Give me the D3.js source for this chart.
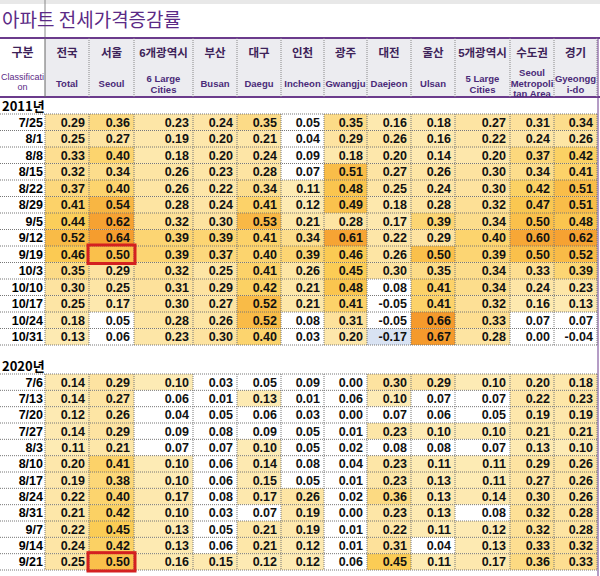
<!DOCTYPE html>
<html><head><meta charset="utf-8">
<script src="https://cdn.jsdelivr.net/npm/d3@7"></script>
<style>body{margin:0;background:#fff}</style>
</head><body><div id="chart"></div>
<script>
// chart data
const columnsKo = ["전국","서울","6개광역시","부산","대구","인천","광주","대전","울산","5개광역시","수도권","경기"];
const columnsEn = [["Total"],["Seoul"],["6 Large","Cities"],["Busan"],["Daegu"],["Incheon"],["Gwangju"],["Daejeon"],["Ulsan"],["5 Large","Cities"],["Seoul","Metropoli","tan Area"],["Gyeongg","i-do"]];
const dates2011 = ["7/25","8/1","8/8","8/15","8/22","8/29","9/5","9/12","9/19","10/3","10/10","10/17","10/24","10/31"];
const values2011 = [
  [0.29,0.36,0.23,0.24,0.35,0.05,0.35,0.16,0.18,0.27,0.31,0.34],
  [0.25,0.27,0.19,0.20,0.21,0.04,0.29,0.26,0.16,0.22,0.24,0.26],
  [0.33,0.40,0.18,0.20,0.24,0.09,0.18,0.20,0.14,0.20,0.37,0.42],
  [0.32,0.34,0.26,0.23,0.28,0.07,0.51,0.27,0.26,0.30,0.34,0.41],
  [0.37,0.40,0.26,0.22,0.34,0.11,0.48,0.25,0.24,0.30,0.42,0.51],
  [0.41,0.54,0.28,0.24,0.41,0.12,0.49,0.18,0.28,0.32,0.47,0.51],
  [0.44,0.62,0.32,0.30,0.53,0.21,0.28,0.17,0.39,0.34,0.50,0.48],
  [0.52,0.64,0.39,0.39,0.41,0.34,0.61,0.22,0.29,0.40,0.60,0.62],
  [0.46,0.50,0.39,0.37,0.40,0.39,0.46,0.26,0.50,0.39,0.50,0.52],
  [0.35,0.29,0.32,0.25,0.41,0.26,0.45,0.30,0.35,0.34,0.33,0.39],
  [0.30,0.25,0.31,0.29,0.42,0.21,0.48,0.08,0.41,0.34,0.24,0.23],
  [0.25,0.17,0.30,0.27,0.52,0.21,0.41,-0.05,0.41,0.32,0.16,0.13],
  [0.18,0.05,0.28,0.26,0.52,0.08,0.31,-0.05,0.66,0.33,0.07,0.07],
  [0.13,0.06,0.23,0.30,0.40,0.03,0.20,-0.17,0.67,0.28,0.00,-0.04]
];
const dates2020 = ["7/6","7/13","7/20","7/27","8/3","8/10","8/17","8/24","8/31","9/7","9/14","9/21"];
const values2020 = [
  [0.14,0.29,0.10,0.03,0.05,0.09,0.00,0.30,0.29,0.10,0.20,0.18],
  [0.14,0.27,0.06,0.01,0.13,0.01,0.06,0.10,0.07,0.07,0.22,0.23],
  [0.12,0.26,0.04,0.05,0.06,0.03,0.00,0.07,0.06,0.05,0.19,0.19],
  [0.14,0.29,0.09,0.08,0.09,0.05,0.01,0.23,0.10,0.10,0.21,0.21],
  [0.11,0.21,0.07,0.07,0.10,0.05,0.02,0.08,0.08,0.07,0.13,0.10],
  [0.20,0.41,0.10,0.06,0.14,0.08,0.04,0.23,0.11,0.11,0.29,0.26],
  [0.19,0.38,0.10,0.06,0.15,0.05,0.01,0.23,0.13,0.11,0.27,0.26],
  [0.22,0.40,0.17,0.08,0.17,0.26,0.02,0.36,0.13,0.14,0.30,0.26],
  [0.21,0.42,0.10,0.03,0.07,0.19,0.00,0.23,0.13,0.08,0.32,0.28],
  [0.22,0.45,0.13,0.05,0.21,0.19,0.01,0.22,0.11,0.12,0.32,0.28],
  [0.24,0.42,0.13,0.06,0.21,0.12,0.01,0.31,0.04,0.13,0.33,0.32],
  [0.25,0.50,0.16,0.15,0.12,0.12,0.06,0.45,0.11,0.17,0.36,0.33]
];
const highlights = [["2011","9/19",1],["2020","9/21",1]];

const WIDTH = 600, HEIGHT = 576;
const colWidths = [44,45,59,44,44,43,43,44,44,55,44,43];
const LABEL_W = 45;
const edges = [LABEL_W, ...d3.cumsum(colWidths).map(d => d + LABEL_W)];
const x = d3.scaleOrdinal().domain(columnsKo).range(edges.slice(0, -1));
const cw = i => colWidths[i];

const color = v => {
  if (v < 0) return v < -0.1 ? "#d9e3f3" : "#fff";
  if (v < 0.1) return "#fff";
  return d3.scaleLinear().domain([0.1,0.3,0.45,0.65]).range(["#fdebb5","#fde3a0","#fbcc55","#f59a2c"]).clamp(true)(v);
};

const svg = d3.select("#chart").append("svg").attr("width", WIDTH).attr("height", HEIGHT)
  .style("font-family", "Arial, 'Liberation Sans', 'Noto Sans CJK KR', sans-serif");

// excel strip on top
svg.append("rect").attr("x",0).attr("y",0).attr("width",WIDTH).attr("height",4).attr("fill","#e8e8e8");
svg.append("line").attr("x1",LABEL_W).attr("x2",LABEL_W).attr("y1",0).attr("y2",38).attr("stroke","#888");

svg.append("text").attr("x",2).attr("y",27).attr("fill","#5b2a86")
  .style("font-size","19px").style("font-family","'Noto Sans CJK KR', sans-serif").text("아파트 전세가격증감률");

// header
const HT = 38, HB = 97;
svg.append("rect").attr("x",LABEL_W).attr("y",HT).attr("width",edges[12]-LABEL_W).attr("height",HB-HT).attr("fill","#ececf0");
svg.append("line").attr("x1",0).attr("x2",WIDTH).attr("y1",HT).attr("y2",HT).attr("stroke","#6b3b8c").attr("stroke-width",2);
svg.append("line").attr("x1",0).attr("x2",WIDTH).attr("y1",HB).attr("y2",HB).attr("stroke","#6b3b8c").attr("stroke-width",2);
svg.append("line").attr("x1",LABEL_W).attr("x2",LABEL_W).attr("y1",HT).attr("y2",HB).attr("stroke","#666");
edges.slice(1).forEach(e => svg.append("line").attr("x1",e).attr("x2",e).attr("y1",HT).attr("y2",HB)
  .attr("stroke","#888").attr("stroke-dasharray","1,1"));

svg.append("text").attr("x",LABEL_W/2).attr("y",57).attr("text-anchor","middle").attr("fill","#3d2359")
  .style("font-size","12px").style("font-weight","bold").text("구분");
["Classificati","on"].forEach((t,j) => svg.append("text").attr("x",LABEL_W/2).attr("y",80+j*10)
  .attr("text-anchor","middle").attr("fill","#5b2a86").style("font-size","9px").text(t));

columnsKo.forEach((c,i) => {
  const cx = x(c) + cw(i)/2;
  svg.append("text").attr("x",cx).attr("y",57).attr("text-anchor","middle").attr("fill","#3d2359")
    .style("font-size","11.5px").style("font-weight","bold").text(c);
  const lines = columnsEn[i];
  const y0 = lines.length === 1 ? 87 : lines.length === 2 ? 82 : 76;
  lines.forEach((t,j) => svg.append("text").attr("x",cx).attr("y",y0 + j*10.5).attr("text-anchor","middle")
    .attr("fill","#4a2a78").style("font-size","9.5px").style("font-weight","bold").text(t));
});
svg.append("line").attr("x1",WIDTH-2).attr("x2",WIDTH-2).attr("y1",HT).attr("y2",HEIGHT).attr("stroke","#6b3b8c");

function section(label, labelY, dates, values, top, bottom) {
  svg.append("text").attr("x",2).attr("y",labelY).style("font-size","13px").style("font-weight","bold")
    .style("font-family","'Noto Sans CJK KR', sans-serif").text(label + "년");
  const y = d3.scaleBand().domain(dates).range([top, bottom]);
  const g = svg.append("g");
  values.forEach((row, r) => {
    const d = dates[r];
    row.forEach((v, i) => {
      g.append("rect").attr("x",x(columnsKo[i])).attr("y",y(d)).attr("width",cw(i)).attr("height",y.bandwidth())
        .attr("fill",color(v));
      g.append("text").attr("x",x(columnsKo[i]) + cw(i) - 4).attr("y",y(d) + y.bandwidth()/2 + 4.5)
        .attr("text-anchor","end").style("font-size","12.5px").style("font-weight","bold").attr("fill","#111")
        .text(v.toFixed(2));
    });
    g.append("text").attr("x",LABEL_W-2).attr("y",y(d) + y.bandwidth()/2 + 4.5).attr("text-anchor","end")
      .style("font-size","12.5px").style("font-weight","bold").text(d);
  });
  // dotted grid
  [...dates.map(d => y(d)), bottom].forEach(yy => g.append("line").attr("x1",0).attr("x2",edges[12])
    .attr("y1",yy).attr("y2",yy).attr("stroke","#777").attr("stroke-dasharray","1,1"));
  edges.forEach(e => g.append("line").attr("x1",e).attr("x2",e).attr("y1",top).attr("y2",bottom)
    .attr("stroke","#777").attr("stroke-dasharray","1,1"));
  highlights.filter(h => h[0] === label).forEach(h => {
    g.append("rect").attr("x",x(columnsKo[h[2]]) - 1).attr("y",y(h[1]) - 1).attr("width",cw(h[2]) + 2)
      .attr("height",y.bandwidth() + 2).attr("fill","none").attr("stroke","#d42020").attr("stroke-width",3);
  });
}
section("2011", 111, dates2011, values2011, 114, 345);
section("2020", 371, dates2020, values2020, 374, 570);
</script></body></html>
